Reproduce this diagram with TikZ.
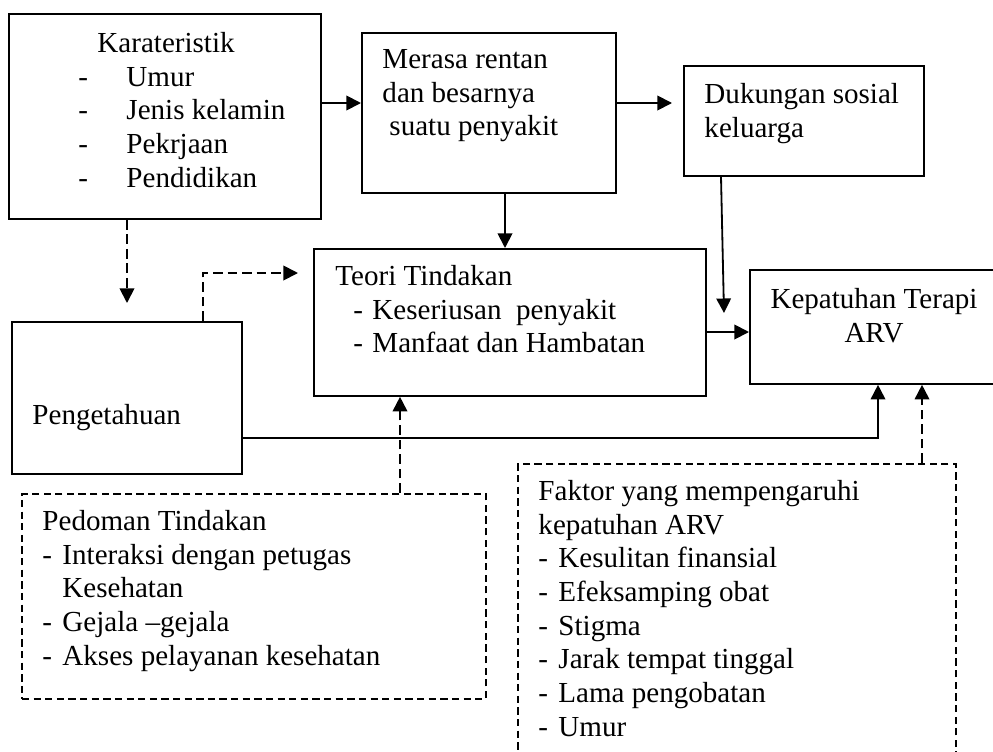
\documentclass[tikz,border=0pt]{standalone}
\usepackage{fontspec}
\setmainfont{Liberation Serif}
\usetikzlibrary{arrows.meta}
\newdimen\unitpx
\unitpx=0.413pt

\begin{document}
\begin{tikzpicture}[
    x=0.413pt,y=-0.413pt,
    font=\fontsize{12}{13.9}\selectfont,
    box/.style={draw,line width=0.75pt,anchor=north west,inner sep=0pt},
    dbox/.style={box,dash pattern=on 3pt off 1.8pt},
    txt/.style={anchor=north west,inner sep=0pt,align=left},
    arr/.style={-{Triangle[length=6pt,width=6pt]},line width=0.75pt},
    darr/.style={arr,dash pattern=on 4pt off 2pt}
  ]
  \useasboundingbox (0,0) rectangle (993,751);
  \clip (0,0) rectangle (993,751);
  \node[box,minimum width=312\unitpx,minimum height=205\unitpx] (karat) at (8,13) {};
  \node[box,minimum width=254\unitpx,minimum height=160\unitpx] (merasa) at (361,32) {};
  \node[box,minimum width=240\unitpx,minimum height=110\unitpx] (dukungan) at (683,65) {};
  \node[box,minimum width=392\unitpx,minimum height=147\unitpx] (teori) at (313,248) {};
  \node[box,minimum width=251\unitpx,minimum height=114\unitpx] (kepat) at (749,269) {};
  \node[box,minimum width=230\unitpx,minimum height=152\unitpx] (penget) at (11,321) {};
  \node[dbox,minimum width=464\unitpx,minimum height=205\unitpx] (pedoman) at (21,493) {};
  \node[dbox,minimum width=438\unitpx,minimum height=310\unitpx] (faktor) at (517,463) {};
  \node[txt] (karat-txt) at (78,28.5) {\strut\hspace*{19\unitpx}Karateristik\\
    \makebox[48\unitpx][l]{-}Umur\\
    \makebox[48\unitpx][l]{-}Jenis kelamin\\
    \makebox[48\unitpx][l]{-}Pekrjaan\\
    \makebox[48\unitpx][l]{-}Pendidikan};
  \node[txt] (merasa-txt) at (382,44.5) {\strut Merasa rentan\\dan besarnya\\
    \hspace*{7\unitpx}suatu penyakit};
  \node[txt] (dukungan-txt) at (704,79.5) {\strut Dukungan sosial\\keluarga};
  \node[txt,anchor=north,align=center] (kepat-txt) at (874,284.5)
    {\strut Kepatuhan Terapi\\ARV};
  \node[txt] (teori-txt) at (335,261.5) {\strut Teori Tindakan\\
    \hspace*{18\unitpx}\makebox[19\unitpx][l]{-}Keseriusan\ \ penyakit\\
    \hspace*{18\unitpx}\makebox[19\unitpx][l]{-}Manfaat dan Hambatan};
  \node[txt] (penget-txt) at (32,400.5) {\strut Pengetahuan};
  \node[txt] (pedoman-txt) at (42,506.5) {\strut Pedoman Tindakan\\
    \makebox[20\unitpx][l]{-}Interaksi dengan petugas\\
    \hspace*{20\unitpx}Kesehatan\\
    \makebox[20\unitpx][l]{-}Gejala --gejala\\
    \makebox[20\unitpx][l]{-}Akses pelayanan kesehatan};
  \node[txt] (faktor-txt) at (538,476.5) {\strut Faktor yang mempengaruhi\\
    kepatuhan ARV\\
    \makebox[20\unitpx][l]{-}Kesulitan finansial\\
    \makebox[20\unitpx][l]{-}Efeksamping obat\\
    \makebox[20\unitpx][l]{-}Stigma\\
    \makebox[20\unitpx][l]{-}Jarak tempat tinggal\\
    \makebox[20\unitpx][l]{-}Lama pengobatan\\
    \makebox[20\unitpx][l]{-}Umur};
  \coordinate (duk-end) at (724,313);
  \draw[arr] (karat.east |- 0,103) -- (merasa.west |- 0,103);
  \draw[arr,shorten >=11\unitpx] (merasa.east |- 0,103) -- (dukungan.west |- 0,103);
  \draw[arr] (merasa.south -| 505,0) -- (teori.north -| 505,0);
  \draw[arr] (dukungan.south -| 721,0) -- (duk-end);
  \draw[arr] (teori.east |- 0,332) -- (kepat.west |- 0,332);
  \draw[arr] (penget.east |- 0,438) -| (kepat.south -| 878,0);
  \draw[darr,shorten >=18\unitpx] (karat.south -| 127,0) -- (penget.north -| 127,0);
  \draw[darr,shorten >=15\unitpx] (penget.north -| 203,0) |- (teori.west |- 0,273);
  \draw[darr] (pedoman.north -| 400,0) -- (teori.south -| 400,0);
  \draw[darr] (faktor.north -| 922,0) -- (kepat.south -| 922,0);
\end{tikzpicture}
\end{document}
